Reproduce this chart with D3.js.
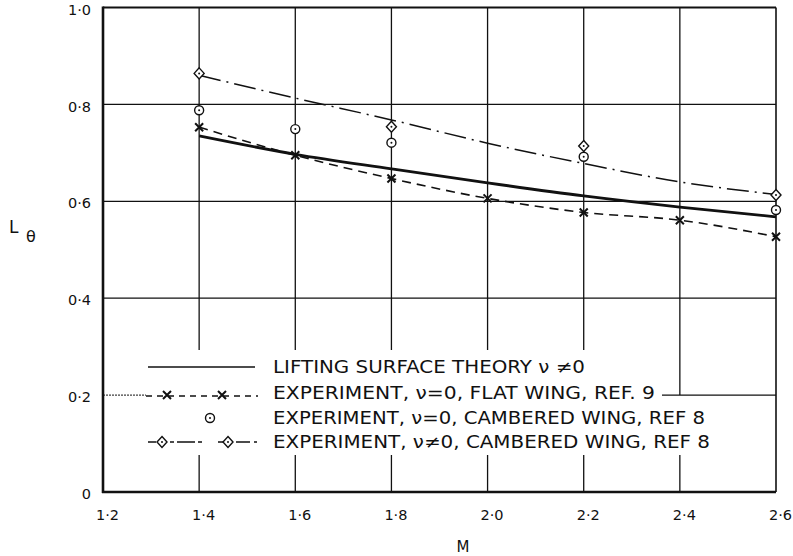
<!DOCTYPE html>
<html>
<head>
<meta charset="utf-8">
<script src="https://cdn.jsdelivr.net/npm/d3@7"></script>
<style>
  html, body { margin: 0; padding: 0; background: #fff; }
  svg { display: block; }
  text { font-family: "DejaVu Sans", sans-serif; fill: #111; }
</style>
</head>
<body>
<svg id="chart" width="793" height="556"></svg>
<script>
const machNumbers = [1.4, 1.6, 1.8, 2.0, 2.2, 2.4, 2.6];
const liftingSurface = [0.735, 0.697, 0.667, 0.638, 0.611, 0.588, 0.568];
const flatWing = [0.753, 0.695, 0.647, 0.606, 0.577, 0.561, 0.527];
const camberedFit = [0.860, 0.813, 0.768, 0.720, 0.678, 0.640, 0.614];

const camberedNuMach = [1.4, 1.8, 2.2, 2.6];
const camberedNu = [0.864, 0.754, 0.714, 0.613];
const camberedZeroMach = [1.4, 1.6, 1.8, 2.2, 2.6];
const camberedZero = [0.788, 0.749, 0.721, 0.692, 0.582];

const xTicks = [1.2, 1.4, 1.6, 1.8, 2.0, 2.2, 2.4, 2.6];
const yTicks = [0, 0.2, 0.4, 0.6, 0.8, 1.0];

const legendLabels = [
  'LIFTING SURFACE THEORY \u03BD \u22600',
  'EXPERIMENT, \u03BD=0, FLAT WING, REF. 9',
  'EXPERIMENT, \u03BD=0, CAMBERED WING, REF 8',
  'EXPERIMENT, \u03BD\u22600, CAMBERED WING, REF 8'
];

const svg = d3.select('#chart');
const x = d3.scaleLinear().domain([1.2, 2.6]).range([103, 776]);
const y = d3.scaleLinear().domain([0, 1.0]).range([492, 7.5]);

// legend box sits inside the lower part of the grid
const gapTop = 350;
const gapBottom = 455;
const rowY = [367, 393, 418, 442];
const textX = 273;
const textWidths = [312, 382, 432, 437];

const fmt = (d) => d === 0 ? '0' : d3.format('.1f')(d).replace('.', '\u00B7');

const grid = svg.append('g')
                .attr('stroke', '#111')
                .attr('stroke-width', 1.3);

grid.selectAll('line.v')
    .data(xTicks.slice(1, -1))
    .enter()
    .append('line')
    .attr('x1', (d) => x(d))
    .attr('x2', (d) => x(d))
    .attr('y1', y(1.0))
    .attr('y2', (d) => d === 2.4 ? y(0.2) : gapTop);

grid.selectAll('line.vb')
    .data(xTicks.slice(1, -1))
    .enter()
    .append('line')
    .attr('x1', (d) => x(d))
    .attr('x2', (d) => x(d))
    .attr('y1', gapBottom)
    .attr('y2', y(0));

grid.selectAll('line.h')
    .data([0.4, 0.6, 0.8])
    .enter()
    .append('line')
    .attr('x1', x(1.2))
    .attr('x2', x(2.6))
    .attr('y1', (d) => y(d))
    .attr('y2', (d) => y(d));

// the 0.2 line is broken by the legend
grid.append('line')
    .attr('x1', x(1.2)).attr('x2', 146)
    .attr('y1', y(0.2)).attr('y2', y(0.2))
    .attr('stroke-width', 1)
    .attr('stroke-dasharray', '2,1');
grid.append('line')
    .attr('x1', 662).attr('x2', x(2.6))
    .attr('y1', y(0.2)).attr('y2', y(0.2));

// frame
svg.append('line')
   .attr('x1', x(1.2)).attr('x2', x(2.6))
   .attr('y1', y(1.0)).attr('y2', y(1.0))
   .attr('stroke', '#111').attr('stroke-width', 1.8);
svg.append('line')
   .attr('x1', x(2.6)).attr('x2', x(2.6))
   .attr('y1', y(1.0)).attr('y2', y(0))
   .attr('stroke', '#111').attr('stroke-width', 1.6);
svg.append('line')
   .attr('x1', x(1.2)).attr('x2', x(1.2))
   .attr('y1', y(1.0) - 1).attr('y2', y(0) + 1)
   .attr('stroke', '#111').attr('stroke-width', 2.6);
svg.append('line')
   .attr('x1', x(1.2) - 1).attr('x2', x(2.6))
   .attr('y1', y(0)).attr('y2', y(0))
   .attr('stroke', '#111').attr('stroke-width', 2.6);

// axes labels via d3 axes, no domain or tick marks
const xAxis = svg.append('g')
                 .attr('transform', `translate(4,${y(0)})`)
                 .call(d3.axisBottom(x).tickValues(xTicks).tickSize(0).tickPadding(18).tickFormat(fmt));
const yAxis = svg.append('g')
                 .attr('transform', `translate(${x(1.2) - 12},2)`)
                 .call(d3.axisLeft(y).tickValues(yTicks).tickSize(0).tickPadding(0).tickFormat(fmt));
[xAxis, yAxis].forEach((a) => {
  a.select('.domain').remove();
  a.selectAll('text')
   .attr('font-family', '"DejaVu Sans", sans-serif')
   .attr('font-size', 14.5)
   .attr('fill', '#111');
});

svg.append('text')
   .attr('x', 463)
   .attr('y', 552)
   .attr('text-anchor', 'middle')
   .attr('font-size', 15)
   .text('M');

svg.append('text')
   .attr('x', 9)
   .attr('y', 233)
   .attr('font-size', 17)
   .text('L');
svg.append('text')
   .attr('x', 26)
   .attr('y', 242)
   .attr('font-size', 16)
   .text('\u03B8');

// curves
const line = (ys) => d3.line()
                       .x((d, i) => x(machNumbers[i]))
                       .y((d) => y(d))
                       .curve(d3.curveMonotoneX)(ys);

svg.append('path')
   .attr('d', line(camberedFit))
   .attr('fill', 'none')
   .attr('stroke', '#111')
   .attr('stroke-width', 1.5)
   .attr('stroke-dasharray', '22,6,2,6');

svg.append('path')
   .attr('d', line(flatWing))
   .attr('fill', 'none')
   .attr('stroke', '#111')
   .attr('stroke-width', 1.6)
   .attr('stroke-dasharray', '9,6');

svg.append('path')
   .attr('d', line(liftingSurface))
   .attr('fill', 'none')
   .attr('stroke', '#111')
   .attr('stroke-width', 2.8);

// markers
const cross = (g, cx, cy) => {
  g.append('path')
   .attr('d', `M${cx - 4},${cy - 4}L${cx + 4},${cy + 4}M${cx + 4},${cy - 4}L${cx - 4},${cy + 4}`)
   .attr('stroke', '#111')
   .attr('stroke-width', 2);
};
const ring = (g, cx, cy) => {
  g.append('circle')
   .attr('cx', cx).attr('cy', cy).attr('r', 4.5)
   .attr('fill', '#fff').attr('stroke', '#111').attr('stroke-width', 1.4);
  g.append('circle')
   .attr('cx', cx).attr('cy', cy).attr('r', 1)
   .attr('fill', '#111');
};
const diamond = (g, cx, cy) => {
  g.append('path')
   .attr('d', `M${cx},${cy - 5.5}L${cx + 5},${cy}L${cx},${cy + 5.5}L${cx - 5},${cy}Z`)
   .attr('fill', '#fff').attr('stroke', '#111').attr('stroke-width', 1.4);
  g.append('circle')
   .attr('cx', cx).attr('cy', cy).attr('r', 1)
   .attr('fill', '#111');
};

const marks = svg.append('g');
flatWing.forEach((d, i) => cross(marks, x(machNumbers[i]), y(d)));
camberedZero.forEach((d, i) => ring(marks, x(camberedZeroMach[i]), y(d)));
camberedNu.forEach((d, i) => diamond(marks, x(camberedNuMach[i]), y(d)));

// legend
const legend = svg.append('g');
legend.append('line')
      .attr('x1', 148).attr('x2', 255)
      .attr('y1', rowY[0]).attr('y2', rowY[0])
      .attr('stroke', '#111').attr('stroke-width', 1.5);
legend.append('line')
      .attr('x1', 146).attr('x2', 258)
      .attr('y1', rowY[1] + 3).attr('y2', rowY[1] + 3)
      .attr('stroke', '#111').attr('stroke-width', 1.3)
      .attr('stroke-dasharray', '6,5');
cross(legend, 167, rowY[1] + 2);
cross(legend, 222, rowY[1] + 2);
ring(legend, 210, rowY[2]);
legend.append('line')
      .attr('x1', 148).attr('x2', 258)
      .attr('y1', rowY[3]).attr('y2', rowY[3])
      .attr('stroke', '#111').attr('stroke-width', 1.5)
      .attr('stroke-dasharray', '8,14,4,3,18,3,4,16,10');
diamond(legend, 162, rowY[3]);
diamond(legend, 228, rowY[3]);

legend.selectAll('text')
      .data(legendLabels)
      .enter()
      .append('text')
      .attr('x', textX)
      .attr('y', (d, i) => rowY[i] + 6)
      .attr('font-size', 17)
      .attr('textLength', (d, i) => textWidths[i])
      .attr('lengthAdjust', 'spacingAndGlyphs')
      .text((d) => d);
</script>
</body>
</html>
